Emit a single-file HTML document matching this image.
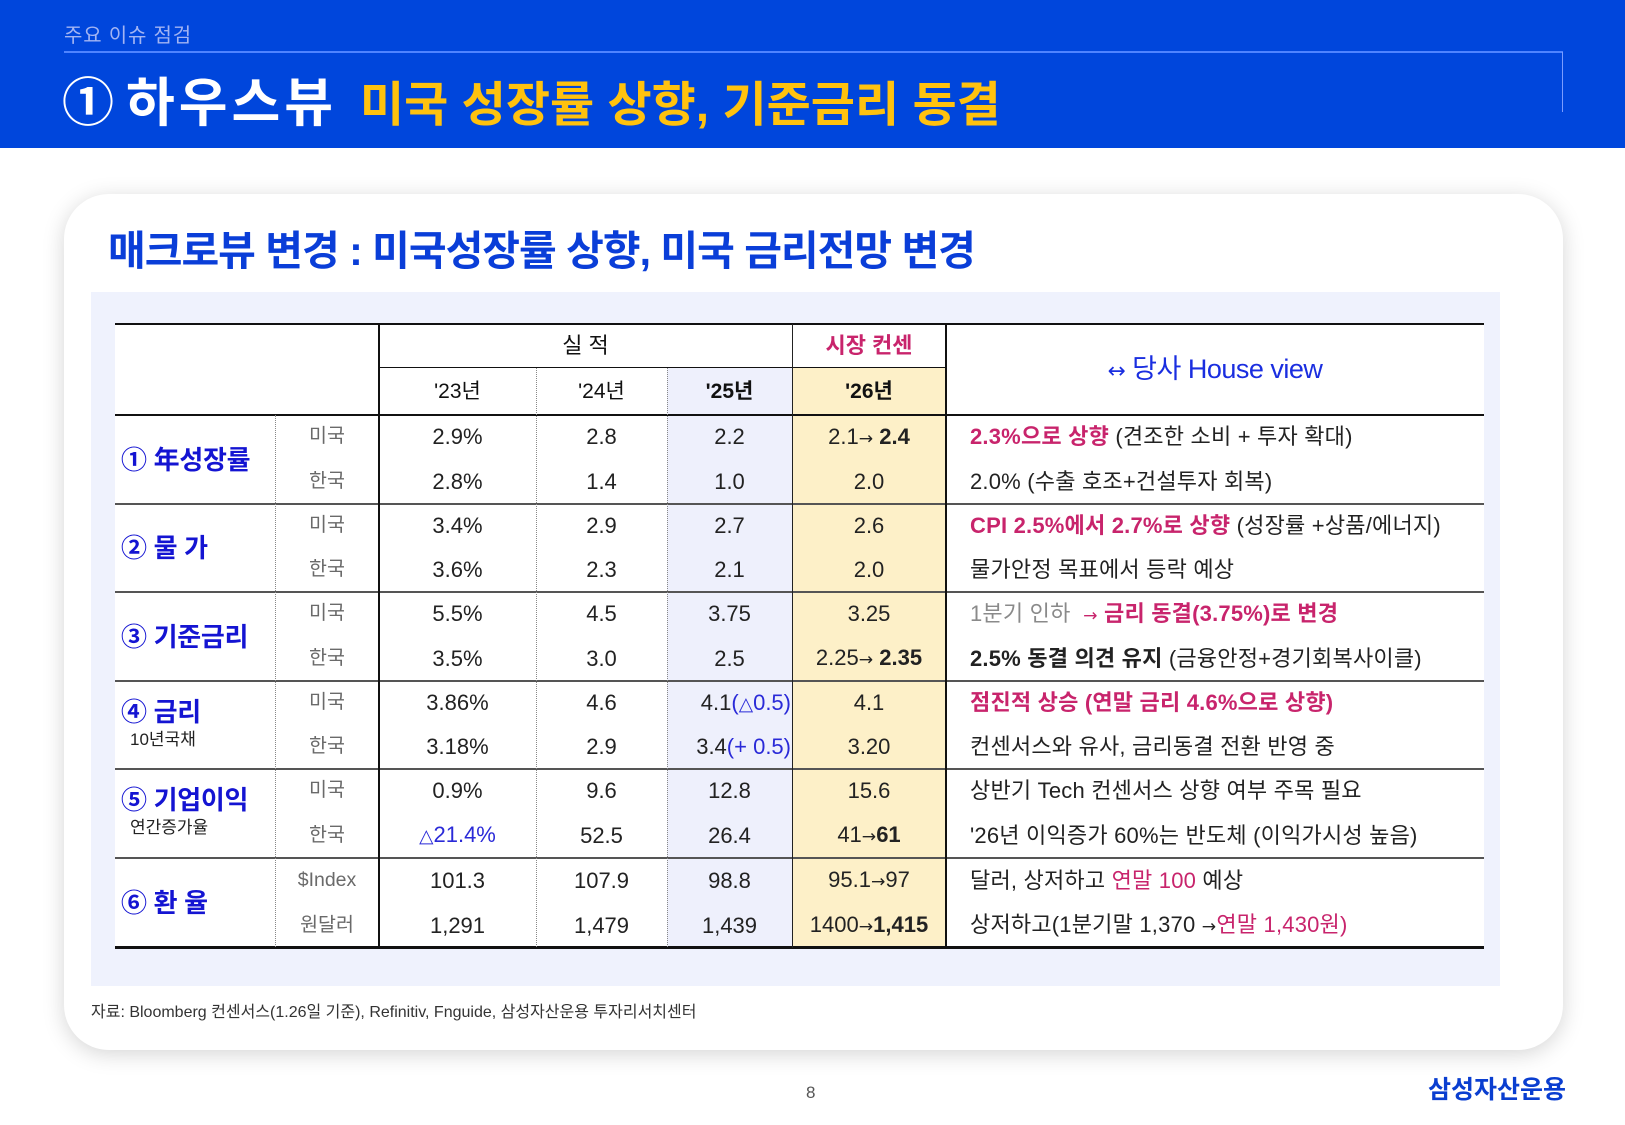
<!DOCTYPE html>
<html><head><meta charset="utf-8">
<style>
*{box-sizing:border-box;margin:0;padding:0}
html,body{width:1625px;height:1125px;overflow:hidden;background:#fff}
body{position:relative;font-family:"Liberation Sans","Noto Sans CJK KR",sans-serif;color:#222}
.a{position:absolute;white-space:nowrap}
.hdr{left:0;top:0;width:1625px;height:148px;background:#0046dc}
.kicker{left:64px;top:24px;font-size:20px;line-height:24px;color:#a2b4f3;letter-spacing:0.8px}
.hl{left:64px;top:51px;width:1499px;height:2px;background:#4f84ff}
.vl{left:1562px;top:52px;width:1px;height:60px;background:#7b9dff}
.t1{left:62px;top:74px;font-size:52px;line-height:60px;font-weight:bold;color:#fff}
.t2{left:126px;top:74px;font-size:53px;line-height:60px;font-weight:bold;color:#fff;letter-spacing:4px}
.t3{left:360px;top:76px;font-size:48px;line-height:60px;font-weight:bold;color:#ffc20e;letter-spacing:0px}
.card{left:64px;top:194px;width:1499px;height:856px;border-radius:45px;background:#fff;box-shadow:0 4px 22px rgba(0,0,0,0.17)}
.sub{left:108px;top:226px;font-size:41px;line-height:50px;font-weight:bold;color:#0a3ed8;letter-spacing:-1px}
.panel{left:91px;top:292px;width:1409px;height:694px;background:#eff2fd}
table{position:absolute;left:115px;top:324px;width:1369px;table-layout:fixed;border-collapse:collapse;border-spacing:0;background:#fff}
td{padding:0;text-align:center;vertical-align:middle;font-size:22px;line-height:1;color:#222;white-space:nowrap;overflow:visible}
.c25{background:#eef0fc}
.c26{background:#fdf0c8}
.h1{font-size:22px;color:#111}
.yr{font-size:21px;color:#111}
.b{font-weight:bold}
.crim{color:#c8246c}
.blu{color:#2a2ad8}
.gr{color:#8a8a8a}
.hvh{font-size:27px;color:#1a2ee0;letter-spacing:-0.5px}
.lab{text-align:left;padding-left:6px;color:#1414d2;font-weight:bold;font-size:26px;letter-spacing:-0.3px}
.labt{vertical-align:top;padding-top:16px}
.l1{line-height:30px}
.l2{line-height:26px;font-size:17px;font-weight:normal;color:#222;padding-left:9px;letter-spacing:0}
.sb{font-size:19.5px;color:#6a6a6a}
.hv{text-align:left;padding-left:24px;font-size:22px;letter-spacing:0.2px;color:#222}
.ar{font-family:"DejaVu Sans",sans-serif;font-size:0.78em;font-weight:normal}
.tri{font-family:"DejaVu Sans",sans-serif;font-size:0.85em}
.ln{position:absolute}
.dot{position:absolute;width:0;border-left:1.5px dotted #888}
.foot{left:91px;top:1002px;font-size:16px;line-height:22px;color:#333}
.pg{left:806px;top:1082px;font-size:17px;line-height:22px;color:#555}
.logo{left:1428px;top:1076px;font-size:25px;line-height:28px;font-weight:bold;color:#0a3ed0;letter-spacing:0px}
</style></head><body>
<div class="a hdr"></div>
<div class="a kicker">주요 이슈 점검</div>
<div class="a hl"></div>
<div class="a vl"></div>
<div class="a t1">①</div>
<div class="a t2">하우스뷰</div>
<div class="a t3">미국 성장률 상향, 기준금리 동결</div>

<div class="a card"></div>
<div class="a sub">매크로뷰 변경 : 미국성장률 상향, 미국 금리전망 변경</div>
<div class="a panel"></div>

<table>
<colgroup><col style="width:160px"><col style="width:104px"><col style="width:157px"><col style="width:131px"><col style="width:125px"><col style="width:154px"><col style="width:538px"></colgroup>
<tr style="height:44px"><td colspan="2" rowspan="2"></td><td colspan="3" class="h1">실 적</td><td class="h1 crim b">시장 컨센</td><td rowspan="2" class="hvh"><span class="ar" style="font-size:0.8em">↔</span> 당사 House view</td></tr>
<tr style="height:47px"><td class="yr">'23년</td><td class="yr">'24년</td><td class="yr b c25">'25년</td><td class="yr b c26">'26년</td></tr>

<tr style="height:44px"><td rowspan="2" class="lab">① 年성장률</td><td class="sb">미국</td><td>2.9%</td><td>2.8</td><td class="c25">2.2</td><td class="c26">2.1<span class="ar">→</span> <b>2.4</b></td><td class="hv"><b class="crim">2.3%으로 상향</b> (견조한 소비 + 투자 확대)</td></tr>
<tr style="height:45px"><td class="sb">한국</td><td>2.8%</td><td>1.4</td><td class="c25">1.0</td><td class="c26">2.0</td><td class="hv">2.0% (수출 호조+건설투자 회복)</td></tr>

<tr style="height:44px"><td rowspan="2" class="lab">② 물 가</td><td class="sb">미국</td><td>3.4%</td><td>2.9</td><td class="c25">2.7</td><td class="c26">2.6</td><td class="hv"><b class="crim">CPI 2.5%에서 2.7%로 상향</b> (성장률 +상품/에너지)</td></tr>
<tr style="height:44px"><td class="sb">한국</td><td>3.6%</td><td>2.3</td><td class="c25">2.1</td><td class="c26">2.0</td><td class="hv">물가안정 목표에서 등락 예상</td></tr>

<tr style="height:44px"><td rowspan="2" class="lab">③ 기준금리</td><td class="sb">미국</td><td>5.5%</td><td>4.5</td><td class="c25">3.75</td><td class="c26">3.25</td><td class="hv"><span class="gr">1분기 인하</span>&nbsp; <b class="crim"><span class="ar">→</span> 금리 동결(3.75%)로 변경</b></td></tr>
<tr style="height:45px"><td class="sb">한국</td><td>3.5%</td><td>3.0</td><td class="c25">2.5</td><td class="c26">2.25<span class="ar">→</span> <b>2.35</b></td><td class="hv"><b>2.5% 동결 의견 유지</b> (금융안정+경기회복사이클)</td></tr>

<tr style="height:44px"><td rowspan="2" class="lab labt"><div class="l1">④ 금리</div><div class="l2">10년국채</div></td><td class="sb">미국</td><td>3.86%</td><td>4.6</td><td class="c25" style="text-align:right;padding-right:1px">4.1<span class="blu">(<span class="tri">△</span>0.5)</span></td><td class="c26">4.1</td><td class="hv"><b class="crim">점진적 상승 (연말 금리 4.6%으로 상향)</b></td></tr>
<tr style="height:44px"><td class="sb">한국</td><td>3.18%</td><td>2.9</td><td class="c25" style="text-align:right;padding-right:1px">3.4<span class="blu">(+ 0.5)</span></td><td class="c26">3.20</td><td class="hv">컨센서스와 유사, 금리동결 전환 반영 중</td></tr>

<tr style="height:44px"><td rowspan="2" class="lab labt"><div class="l1">⑤ 기업이익</div><div class="l2">연간증가율</div></td><td class="sb">미국</td><td>0.9%</td><td>9.6</td><td class="c25">12.8</td><td class="c26">15.6</td><td class="hv">상반기 Tech 컨센서스 상향 여부 주목 필요</td></tr>
<tr style="height:45px"><td class="sb">한국</td><td class="blu"><span class="tri">△</span>21.4%</td><td>52.5</td><td class="c25">26.4</td><td class="c26">41<span class="ar">→</span><b>61</b></td><td class="hv">'26년 이익증가 60%는 반도체 (이익가시성 높음)</td></tr>

<tr style="height:45px"><td rowspan="2" class="lab">⑥ 환 율</td><td class="sb">$Index</td><td>101.3</td><td>107.9</td><td class="c25">98.8</td><td class="c26">95.1<span class="ar">→</span>97</td><td class="hv">달러, 상저하고 <span class="crim">연말 100</span> 예상</td></tr>
<tr style="height:45px"><td class="sb">원달러</td><td>1,291</td><td>1,479</td><td class="c25">1,439</td><td class="c26">1400<span class="ar">→</span><b>1,415</b></td><td class="hv">상저하고(1분기말 1,370 <span class="ar">→</span><span class="crim">연말 1,430원)</span></td></tr>
</table>

<!-- lines -->
<div class="ln" style="left:115px;top:323px;width:1369px;height:2px;background:#111"></div>
<div class="ln" style="left:379px;top:367px;width:567px;height:1px;background:#111"></div>
<div class="ln" style="left:115px;top:414px;width:1369px;height:2px;background:#111"></div>
<div class="ln" style="left:115px;top:503px;width:1369px;height:2px;background:#555"></div>
<div class="ln" style="left:115px;top:591px;width:1369px;height:2px;background:#555"></div>
<div class="ln" style="left:115px;top:680px;width:1369px;height:2px;background:#555"></div>
<div class="ln" style="left:115px;top:768px;width:1369px;height:2px;background:#555"></div>
<div class="ln" style="left:115px;top:857px;width:1369px;height:2px;background:#555"></div>
<div class="ln" style="left:115px;top:946px;width:1369px;height:3px;background:#111"></div>
<div class="ln" style="left:378px;top:324px;width:2px;height:624px;background:#111"></div>
<div class="ln" style="left:945px;top:324px;width:2px;height:624px;background:#111"></div>
<div class="ln" style="left:792px;top:324px;width:1px;height:624px;background:#222"></div>
<div class="dot" style="left:275px;top:415px;height:532px"></div>
<div class="dot" style="left:536px;top:368px;height:579px"></div>
<div class="dot" style="left:667px;top:368px;height:579px"></div>

<div class="a foot">자료: Bloomberg 컨센서스(1.26일 기준), Refinitiv, Fnguide, 삼성자산운용 투자리서치센터</div>
<div class="a pg">8</div>
<div class="a logo">삼성자산운용</div>
</body></html>
